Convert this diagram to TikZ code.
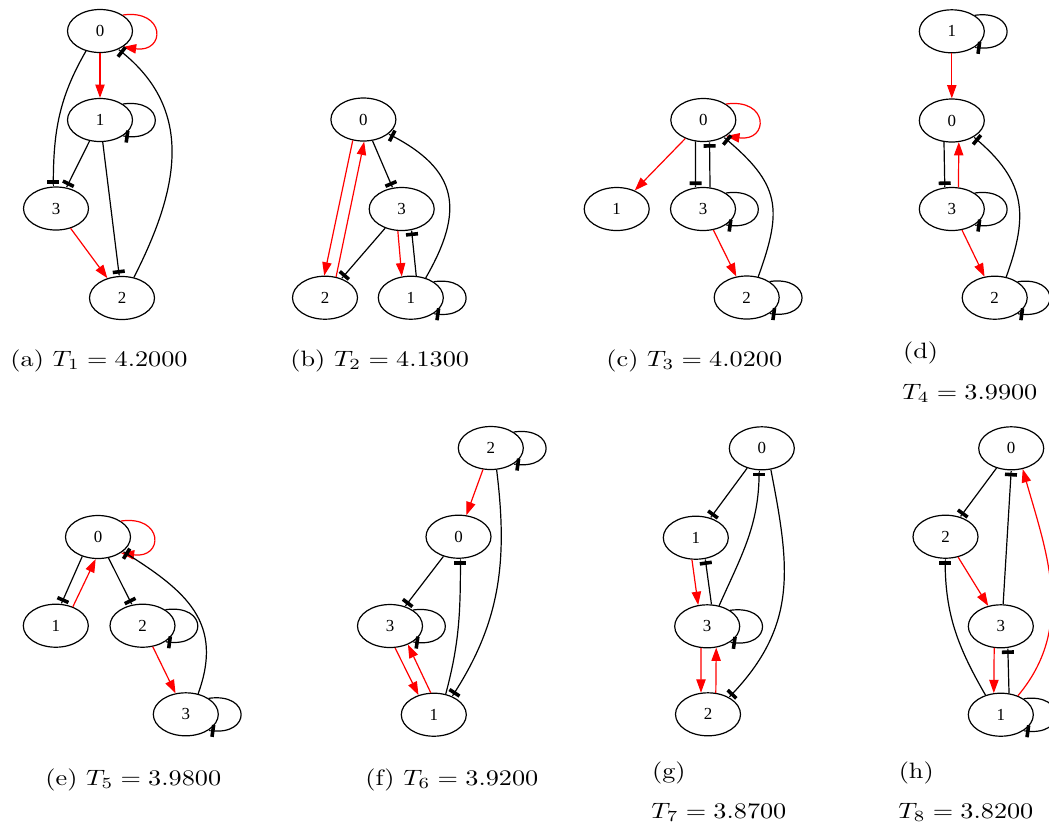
\documentclass[tikz,border=0pt]{standalone}
\usepackage{graphicx}
\usepackage{fontspec}
\newfontfamily\gvfont{Liberation Serif}
\usetikzlibrary{arrows.meta,shapes.geometric}
\newcommand\gvloop[2]{\draw[#1] (#2.35) .. controls +(43,6) and +(43,-6) .. (#2.-35);}
\newcommand\wcap[1]{\scalebox{1.18}[1]{#1}}
\begin{document}
\begin{tikzpicture}[x=0.45pt,y=0.45pt,
  nd/.style={draw, ellipse, line width=0.54pt, minimum width=29.25pt, minimum height=19.35pt, inner sep=0pt, font=\gvfont\fontsize{7.6}{9}\selectfont},
  ra/.style={red, line width=0.54pt, -{Triangle[length=6pt,width=4.2pt]}},
  te/.style={black, line width=0.54pt, -{Rectangle[length=1.6pt,width=5.4pt]Rectangle[length=1.1pt,width=0.54pt]}},
  captxt/.style={anchor=base west, inner sep=0pt}]
\useasboundingbox (0,0) rectangle (1049,-827);
\clip (0,0) rectangle (1049,-827);
% (a)
\node[nd] (a0) at (100,-31) {0};
\node[nd] (a1) at (100,-120) {1};
\node[nd] (a3) at (56,-208.5) {3};
\node[nd] (a2) at (122,-298) {2};
\draw[ra] (a0) -- (a1);
\gvloop{ra}{a0}
\gvloop{te}{a1}
\draw[te] (a0.235) to[out=-120,in=90] (a3.97);
\draw[te] (a1) -- (a3);
\draw[te] (a1) -- (a2);
\draw[ra] (a3) -- (a2);
\draw[te] (a2.60) to[out=63,in=-38,looseness=1.1] (a0.-45);
\node[captxt] (ca) at (10,-366) {\wcap{(a) $T_1 = 4.2000$}};
% (b)
\node[nd] (b0) at (363.4,-119.5) {0};
\node[nd] (b3) at (401.7,-209) {3};
\node[nd] (b2) at (325,-297.7) {2};
\node[nd] (b1) at (410.8,-297.7) {1};
\draw[ra] (b0.243) -- (b2.92);
\draw[ra] (b2.62) -- (b0.272);
\draw[te] (b0) -- (b3);
\draw[te] (b3) -- (b2);
\draw[ra] (b3.260) -- (b1.113);
\draw[te] (b1.76) -- (b3.-65);
\draw[te] (b1.53) to[out=60,in=-27,looseness=1.35] (b0.-30);
\gvloop{te}{b1}
\node[captxt] (cb) at (290,-366) {\wcap{(b) $T_2 = 4.1300$}};
% (c)
\node[nd] (c0) at (703.3,-120) {0};
\node[nd] (c1) at (616.7,-209) {1};
\node[nd] (c3) at (703,-209) {3};
\node[nd] (c2) at (746.7,-297.5) {2};
\gvloop{ra}{c0}
\draw[ra] (c0) -- (c1);
\draw[te] (c0.250) -- (c3.109);
\draw[te] (c3.72) -- (c0.-74);
\gvloop{te}{c3}
\draw[ra] (c3) -- (c2);
\gvloop{te}{c2}
\draw[te] (c2.61) to[out=70,in=-40,looseness=1.3] (c0.-40);
\node[captxt] (cc) at (606,-366) {\wcap{(c) $T_3 = 4.0200$}};
% (d)
\node[nd] (d1) at (951.8,-31.3) {1};
\node[nd] (d0) at (951.8,-120.5) {0};
\node[nd] (d3) at (951.8,-209) {3};
\node[nd] (d2) at (994.7,-297.7) {2};
\gvloop{te}{d1}
\draw[ra] (d1) -- (d0);
\draw[te] (d0.250) -- (d3.108);
\draw[ra] (d3.73) -- (d0.-72);
\gvloop{te}{d3}
\draw[ra] (d3) -- (d2);
\gvloop{te}{d2}
\draw[te] (d2.61) to[out=70,in=-40,looseness=1.2] (d0.-37);
\node[captxt] (cd) at (902.7,-358) {\wcap{(d)}};
\node[captxt] (cd2) at (902,-399) {\wcap{$T_4 = 3.9900$}};
% (e)
\node[nd] (e0) at (98,-537) {0};
\node[nd] (e1) at (55.8,-625.7) {1};
\node[nd] (e2) at (142.5,-625.7) {2};
\node[nd] (e3) at (185.8,-714.3) {3};
\gvloop{ra}{e0}
\draw[te] (e0.231) -- (e1.76);
\draw[ra] (e1.48) -- (e0.264);
\draw[te] (e0) -- (e2);
\gvloop{te}{e2}
\draw[ra] (e2) -- (e3);
\gvloop{te}{e3}
\draw[te] (e3.59) to[out=70,in=-32,looseness=1.2] (e0.-30);
\node[captxt] (ce) at (45,-785) {\wcap{(e) $T_5 = 3.9800$}};
% (f)
\node[nd] (f2) at (490.8,-448) {2};
\node[nd] (f0) at (458.5,-536.7) {0};
\node[nd] (f3) at (390,-626) {3};
\node[nd] (f1) at (433.8,-714.7) {1};
\gvloop{te}{f2}
\draw[ra] (f2) -- (f0);
\draw[te] (f2.-75) to[out=-83,in=57] (f1.45);
\draw[te] (f0) -- (f3);
\gvloop{te}{f3}
\draw[ra] (f3.-77) -- (f1.128);
\draw[ra] (f1.98) -- (f3.-46);
\draw[te] (f1.60) to[out=75,in=-90] (f0.-85);
\node[captxt] (cf) at (365,-785) {\wcap{(f) $T_6 = 3.9200$}};
% (g)
\node[nd] (g0) at (761.8,-448.3) {0};
\node[nd] (g1) at (695.8,-537.7) {1};
\node[nd] (g3) at (707.2,-626.3) {3};
\node[nd] (g2) at (708,-714.3) {2};
\draw[te] (g0) -- (g1);
\draw[te] (g0.-67) to[out=-79,in=46,looseness=1.1] (g2.39);
\draw[te] (g3.60) to[out=66,in=-90] (g0.-97);
\draw[ra] (g1.260) -- (g3.113);
\draw[te] (g3.79) -- (g1.-66);
\gvloop{te}{g3}
\draw[ra] (g3.254) -- (g2.108);
\draw[ra] (g2.70) -- (g3.-67);
\node[captxt] (cg) at (651.7,-778) {\wcap{(g)}};
\node[captxt] (cg2) at (651,-818) {\wcap{$T_7 = 3.8700$}};
% (h)
\node[nd] (h0) at (1011.2,-448.3) {0};
\node[nd] (h2) at (945.5,-536.7) {2};
\node[nd] (h3) at (1000.8,-626.3) {3};
\node[nd] (h1) at (1000.8,-714.7) {1};
\draw[te] (h0) -- (h2);
\draw[te] (h3.84) -- (h0.-90);
\draw[ra] (h2) -- (h3);
\draw[te] (h1.128) to[out=120,in=-90] (h2.-91);
\draw[ra] (h3.253) -- (h1.108);
\draw[te] (h1.69) -- (h3.-72);
\draw[ra] (h1.48) to[out=50,in=-74] (h0.-61);
\gvloop{te}{h1}
\node[captxt] (ch) at (898.3,-778) {\wcap{(h)}};
\node[captxt] (ch2) at (898,-818) {\wcap{$T_8 = 3.8200$}};
\end{tikzpicture}
\end{document}
